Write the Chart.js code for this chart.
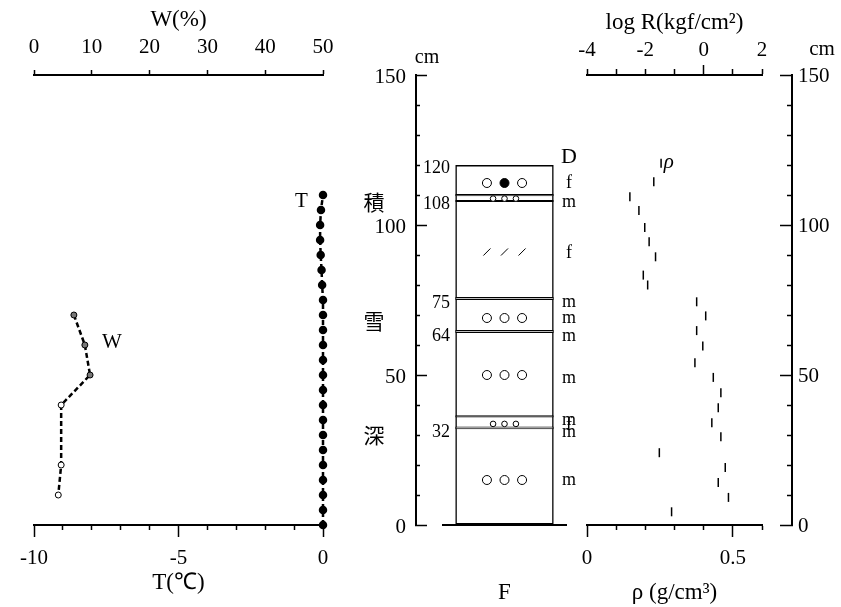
<!DOCTYPE html>
<html>
<head>
<meta charset="utf-8">
<script src="https://cdn.jsdelivr.net/npm/chart.js@4.4.1/dist/chart.umd.min.js"></script>
<style>
  html, body { margin: 0; padding: 0; background: #fff; }
  #wrap { position: relative; width: 841px; height: 607px; overflow: hidden; }
  #wrap canvas { position: absolute; top: 0; }
</style>
</head>
<body>
<div id="wrap">
  <canvas id="tempChart" width="360" height="607" style="left:0px"></canvas>
  <canvas id="layerChart" width="240" height="607" style="left:360px"></canvas>
  <canvas id="rhoChart" width="215" height="607" style="left:560px"></canvas>
  <canvas id="depthChart" width="79" height="607" style="left:762px"></canvas>
</div>
<script>
// snow temperature (deg C) every 5 cm of depth
const tDepth = [0, 5, 10, 15, 20, 25, 30, 35, 40, 45, 50, 55, 60, 65, 70, 75, 80, 85, 90, 95, 100, 105, 110];
const tValue = [0, 0, 0, 0, 0, 0, 0, 0, 0, 0, 0, 0, 0, 0, 0, 0, -0.03, -0.05, -0.08, -0.1, -0.1, -0.07, 0];

// water content W (%)
const wDepth = [70, 60, 50, 40, 20, 10];
const wValue = [6.9, 8.8, 9.7, 4.7, 4.7, 4.2];

// density rho (g/cm3)
const rhoDepth = [120.6, 114.4, 109.4, 104.8, 99.2, 94.4, 89.4, 83.3, 80, 74.4, 69.7, 64.8,
                  59.7, 54.1, 49.2, 44.1, 39.1, 34.1, 29.4, 24.1, 19.2, 14.2, 9.2, 4.4];
const rhoValue = [0.254, 0.229, 0.147, 0.178, 0.198, 0.213, 0.235, 0.193, 0.208, 0.376, 0.407, 0.376,
                  0.397, 0.37, 0.433, 0.459, 0.45, 0.428, 0.459, 0.248, 0.474, 0.45, 0.485, 0.29];

// stratigraphy column
const snowTop = 120;
const crustBands = [[109.6, 110.3], [107.7, 108.3], [75, 76], [64, 65], [35.8, 36.6], [31.9, 32.8]];
const layerMarks = [120, 108, 75, 64, 32];
const grainDepth = [122.6, 113.8, 107.7, 90.7, 74.3, 69, 62.8, 49, 34.8, 33.2, 31, 15];
const grainType = ['D', 'f', 'm', 'f', 'm', 'm', 'm', 'm', 'm', 'f', 'm', 'm'];
const openCircles = [[114, [1, 3]], [69, [1, 2, 3]], [50, [1, 2, 3]], [15, [1, 2, 3]]];
const filledCircles = [[114, [2]]];
const smallCircles = [[108.8, [1.35, 2, 2.65]], [33.7, [1.35, 2, 2.65]]];
const slashMarks = [[91, [1, 2, 3]]];

const SERIF = 'Liberation Serif';
const tickFont = { family: SERIF, size: 21 };
const titleFont = { family: SERIF, size: 23 };
const axisBorder = { color: '#000', width: 2 };
Chart.defaults.color = '#000';
Chart.defaults.font.family = SERIF;

function toPoints(rows) {
    return rows.flatMap(([d, cols]) => cols.map((c) => ({ x: c, y: d })));
}

function makeNotes(items) {
    return {
        id: 'notes',
        afterDraw(chart) {
            const ctx = chart.ctx;
            ctx.save();
            ctx.fillStyle = '#000';
            ctx.textAlign = 'center';
            ctx.textBaseline = 'middle';
            items.forEach((item) => {
                const [px, py] = item.at(chart);
                ctx.font = item.font;
                ctx.fillText(item.text, px, py);
            });
            ctx.restore();
        }
    };
}

const common = {
    responsive: false,
    animation: false,
    events: [],
    plugins: { legend: { display: false }, tooltip: { enabled: false } }
};

// left panel: T and W
new Chart(document.getElementById('tempChart'), {
    type: 'scatter',
    data: {
        datasets: [
            {
                label: 'T',
                data: tDepth.map((d, i) => ({ x: tValue[i], y: d })),
                xAxisID: 'x', yAxisID: 'y', showLine: true, clip: false,
                borderColor: '#000', borderWidth: 2.5, borderDash: [5, 3],
                pointRadius: 3, pointBackgroundColor: '#000', pointBorderColor: '#000'
            },
            {
                label: 'W',
                data: wDepth.map((d, i) => ({ x: wValue[i], y: d })),
                xAxisID: 'xw', yAxisID: 'y', showLine: true, clip: false,
                borderColor: '#000', borderWidth: 2.5, borderDash: [5, 3],
                pointRadius: 3, pointBorderWidth: 1, pointBorderColor: '#000',
                pointBackgroundColor: ['#777', '#777', '#777', '#fff', '#fff', '#fff']
            }
        ]
    },
    options: {
        ...common,
        layout: { padding: { left: 34, right: 37, top: 0, bottom: 0 } },
        scales: {
            x: {
                type: 'linear', position: 'bottom', min: -10, max: 0,
                afterFit: (s) => { s.height = 82; },
                border: axisBorder,
                grid: {
                    drawOnChartArea: false, tickLength: 12, tickWidth: 1.5, tickColor: '#000',
                    tickBorderDash: (c) => (c.tick && c.tick.value % 5 === 0) ? [] : [4, 100]
                },
                ticks: {
                    stepSize: 1, autoSkip: false, padding: 9, font: tickFont, maxRotation: 0,
                    callback: (v) => (v % 5 === 0 ? String(v) : '')
                },
                title: { display: true, text: 'T(℃)', font: titleFont, padding: { top: 0, bottom: 10 } }
            },
            xw: {
                type: 'linear', position: 'top', min: 0, max: 50,
                afterFit: (s) => { s.height = 75; },
                border: axisBorder,
                grid: { drawOnChartArea: false, tickLength: 5, tickWidth: 1.5, tickColor: '#000' },
                ticks: { stepSize: 10, padding: 10, font: tickFont, maxRotation: 0 },
                title: { display: true, text: 'W(%)', font: titleFont, padding: { top: 6, bottom: 0 } }
            },
            y: { display: false, min: 0, max: 150 }
        }
    },
    plugins: [makeNotes([
        { text: 'T', font: '21px ' + SERIF, at: (c) => [c.scales.x.getPixelForValue(-0.75), c.scales.y.getPixelForValue(108)] },
        { text: 'W', font: '21px ' + SERIF, at: (c) => [c.scales.xw.getPixelForValue(13.5), c.scales.y.getPixelForValue(61)] }
    ])]
});

// middle panel: snow depth axis and stratigraphy column
const bandSets = crustBands.map((b) => ({
    type: 'bar', data: [b], xAxisID: 'x', yAxisID: 'y', order: 2,
    backgroundColor: '#bdbdbd', borderColor: '#000', borderWidth: 1, borderSkipped: false,
    grouped: false, barPercentage: 0.8, categoryPercentage: 1
}));

new Chart(document.getElementById('layerChart'), {
    type: 'bar',
    data: {
        labels: ['F'],
        datasets: [
            {
                type: 'bar', data: [[0, snowTop]], xAxisID: 'x', yAxisID: 'y', order: 3,
                backgroundColor: 'rgba(0,0,0,0)', borderColor: '#000', borderWidth: 1.5, borderSkipped: false,
                grouped: false, barPercentage: 0.8, categoryPercentage: 1
            },
            ...bandSets,
            {
                type: 'scatter', data: toPoints(openCircles), xAxisID: 'xs', yAxisID: 'y', order: 1,
                pointRadius: 4.5, pointBorderWidth: 1, pointBorderColor: '#000', pointBackgroundColor: '#fff'
            },
            {
                type: 'scatter', data: toPoints(filledCircles), xAxisID: 'xs', yAxisID: 'y', order: 1,
                pointRadius: 4.5, pointBorderWidth: 1, pointBorderColor: '#000', pointBackgroundColor: '#000'
            },
            {
                type: 'scatter', data: toPoints(smallCircles), xAxisID: 'xs', yAxisID: 'y', order: 1,
                pointRadius: 2.8, pointBorderWidth: 1, pointBorderColor: '#000', pointBackgroundColor: '#fff'
            },
            {
                type: 'scatter', data: toPoints(slashMarks), xAxisID: 'xs', yAxisID: 'y', order: 1,
                pointStyle: 'line', pointRotation: -45, pointRadius: 5, pointBorderWidth: 1, pointBorderColor: '#000'
            }
        ]
    },
    options: {
        ...common,
        layout: { padding: { left: 0, right: 0, top: 75, bottom: 0 } },
        scales: {
            x: {
                type: 'category', position: 'bottom',
                afterFit: (s) => { s.height = 82; },
                grid: { display: false },
                border: axisBorder,
                ticks: { display: false },
                title: { display: true, text: 'F', font: titleFont, padding: { top: 0, bottom: 0 } }
            },
            xs: { type: 'linear', display: false, offset: false, min: -1.5, max: 5.5 },
            y: {
                type: 'linear', position: 'left', weight: 1, min: 0, max: 150,
                afterFit: (s) => { s.width = 56; },
                border: axisBorder,
                grid: {
                    drawOnChartArea: false, tickLength: -11, tickWidth: 1.5, tickColor: '#000',
                    tickBorderDash: (c) => (c.tick && c.tick.value % 50 === 0) ? [] : [0, 7, 5, 100]
                },
                ticks: {
                    stepSize: 10, autoSkip: false, padding: 21, labelOffset: 2, font: tickFont,
                    callback: (v) => (v % 50 === 0 ? String(v) : '')
                }
            },
            yl: {
                type: 'linear', position: 'left', weight: 0, min: 0, max: 150,
                afterFit: (s) => { s.width = 27; },
                afterBuildTicks: (s) => { s.ticks = layerMarks.map((v) => ({ value: v })); },
                border: { display: false },
                grid: { display: false, drawTicks: false },
                ticks: {
                    autoSkip: false, mirror: true, crossAlign: 'far', padding: -20, labelOffset: 3,
                    font: { family: SERIF, size: 18 }
                }
            },
            yr: {
                type: 'linear', position: 'right', min: 0, max: 150,
                afterFit: (s) => { s.width = 34; },
                afterBuildTicks: (s) => { s.ticks = grainDepth.map((v) => ({ value: v })); },
                border: { display: false },
                grid: { display: false, drawTicks: false },
                ticks: {
                    autoSkip: false, mirror: true, crossAlign: 'center', padding: 11,
                    font: (c) => ({ family: SERIF, size: grainType[c.index] === 'D' ? 22 : 18 }),
                    callback: (v, i) => grainType[i]
                }
            }
        }
    },
    plugins: [makeNotes([
        { text: '積', font: '21px "Noto Sans CJK JP"', at: (c) => [c.scales.y.left + 14, c.scales.y.getPixelForValue(107.5)] },
        { text: '雪', font: '21px "Noto Sans CJK JP"', at: (c) => [c.scales.y.left + 14, c.scales.y.getPixelForValue(68)] },
        { text: '深', font: '21px "Noto Sans CJK JP"', at: (c) => [c.scales.y.left + 14, c.scales.y.getPixelForValue(30)] },
        { text: 'cm', font: '20px ' + SERIF, at: (c) => [c.scales.y.right + 11, c.chartArea.top - 17] }
    ])]
});

// right panel: density and log R
new Chart(document.getElementById('rhoChart'), {
    type: 'scatter',
    data: {
        datasets: [{
            label: 'rho',
            data: rhoDepth.map((d, i) => ({ x: rhoValue[i], y: d })),
            xAxisID: 'x', yAxisID: 'y', clip: false,
            pointStyle: 'line', pointRotation: 90, pointRadius: 4.5,
            pointBorderWidth: 1.5, pointBorderColor: '#000'
        }]
    },
    options: {
        ...common,
        layout: { padding: { left: 27, right: 13, top: 0, bottom: 0 } },
        scales: {
            x: {
                type: 'linear', position: 'bottom', min: 0, max: 0.6,
                afterFit: (s) => { s.height = 82; },
                border: axisBorder,
                grid: {
                    drawOnChartArea: false, tickLength: 12, tickWidth: 1.5, tickColor: '#000',
                    tickBorderDash: (c) => (c.tick && (Math.abs(c.tick.value) < 1e-9 || Math.abs(c.tick.value - 0.5) < 1e-9)) ? [] : [4, 100]
                },
                ticks: {
                    stepSize: 0.1, autoSkip: false, padding: 9, font: tickFont, maxRotation: 0,
                    callback: (v) => (Math.abs(v) < 1e-9 ? '0' : (Math.abs(v - 0.5) < 1e-9 ? '0.5' : ''))
                },
                title: { display: true, text: 'ρ (g/cm³)', font: titleFont, padding: { top: 0, bottom: 0 } }
            },
            xr: {
                type: 'linear', position: 'top', min: -4, max: 2,
                afterFit: (s) => { s.height = 75; },
                border: axisBorder,
                grid: {
                    drawOnChartArea: false, tickLength: 10, tickWidth: 1.5, tickColor: '#000',
                    tickBorderDash: (c) => (c.tick && c.tick.value === 0) ? [] : [0, 4, 5, 100]
                },
                ticks: {
                    stepSize: 1, autoSkip: false, padding: 2, font: tickFont, maxRotation: 0,
                    callback: (v) => (v % 2 === 0 ? String(v) : '')
                },
                title: { display: true, text: 'log R(kgf/cm²)', font: titleFont, padding: { top: 9, bottom: 0 } }
            },
            y: { display: false, min: 0, max: 150 }
        }
    },
    plugins: [makeNotes([
        { text: 'ρ', font: 'italic 21px ' + SERIF, at: (c) => [c.scales.x.getPixelForValue(0.28), c.scales.y.getPixelForValue(121)] }
    ])]
});

// right snow depth axis
new Chart(document.getElementById('depthChart'), {
    type: 'scatter',
    data: { datasets: [] },
    options: {
        ...common,
        layout: { padding: { left: 0, right: 0, top: 75, bottom: 82 } },
        scales: {
            x: { type: 'linear', display: false, min: 0, max: 1 },
            y: {
                type: 'linear', position: 'right', min: 0, max: 150,
                afterFit: (s) => { s.width = 49; },
                border: axisBorder,
                grid: {
                    drawOnChartArea: false, tickLength: -12, tickWidth: 1.5, tickColor: '#000',
                    tickBorderDash: (c) => (c.tick && c.tick.value % 50 === 0) ? [] : [6, 100]
                },
                ticks: {
                    stepSize: 10, autoSkip: false, padding: 18, labelOffset: 1, font: tickFont,
                    callback: (v) => (v % 50 === 0 ? String(v) : '')
                }
            }
        }
    },
    plugins: [makeNotes([
        { text: 'cm', font: '21px ' + SERIF, at: (c) => [c.scales.y.left + 30, c.chartArea.top - 26] }
    ])]
});
</script>
</body>
</html>
